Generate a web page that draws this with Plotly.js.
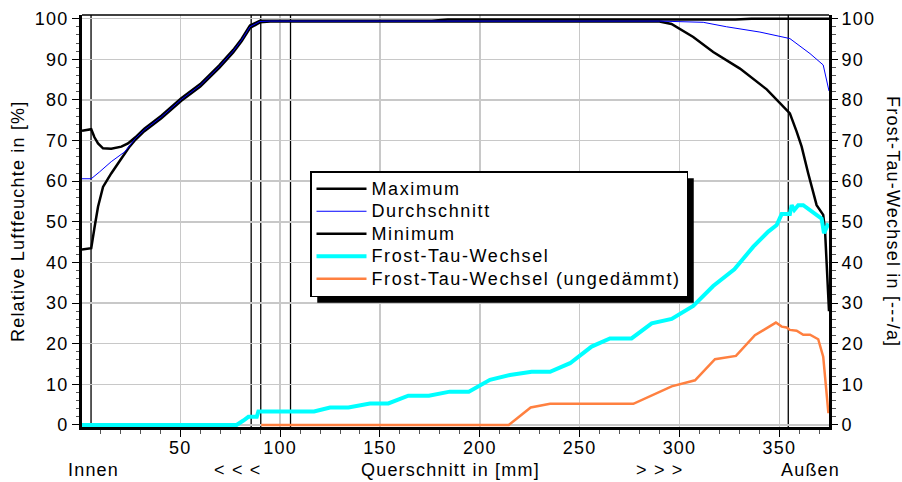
<!DOCTYPE html>
<html>
<head>
<meta charset="utf-8">
<script src="https://cdn.plot.ly/plotly-3.0.1.min.js"></script>
<style>
html, body { margin: 0; padding: 0; background: #fff; }
svg text { letter-spacing: 1.2px; }
svg text.legendtext { font-size: 18px !important; letter-spacing: 1.6px; }
</style>
</head>
<body>
<div id="chart" style="width:902px;height:482px;"></div>
<script>
// ---- data ----
const xMax = [0.77, 5.4, 7.0, 8.8, 11.3, 15.4, 20.5, 23.8, 27.5, 32, 40.5, 50.5, 60, 69.5, 76.5, 80.7, 84.9, 89.9, 95, 176, 184, 328, 336, 374.9];
const yMax = [72.4, 72.8, 70.8, 69.3, 68.1, 68.0, 68.5, 69.3, 70.8, 72.9, 76.1, 80.4, 83.9, 88.5, 92.3, 95.0, 98.3, 99.5, 99.5, 99.5, 99.8, 99.8, 100, 100];

const xAvg = [0.77, 5.4, 9.6, 15.4, 22.1, 27.5, 32, 40.5, 50.5, 60, 69.5, 76.5, 80.7, 84.9, 89.9, 95, 290, 301.9, 311.9, 323.6, 327, 340.3, 355.3, 358.7, 365.4, 372, 374.9];
const yAvg = [60.6, 60.6, 62.3, 64.8, 67.2, 70.5, 72.6, 75.8, 80.1, 83.6, 88.2, 92.0, 94.7, 98.0, 99.3, 99.4, 99.4, 99.2, 99.1, 98.0, 97.7, 96.7, 95.1, 93.9, 91.4, 88.6, 82.2];

const xMin = [0.77, 5.4, 7.1, 8.8, 11.3, 15.4, 20.5, 24.6, 27.5, 32, 40.5, 50.5, 60, 69.5, 76.5, 80.7, 84.9, 89.9, 95, 290, 296, 306.9, 316.9, 330.3, 343.7, 355.3, 358.7, 361.2, 364.5, 368.7, 372, 372.9, 374.9];
const yMin = [43.2, 43.5, 48.8, 53.7, 58.6, 61.9, 65.6, 68.5, 70.2, 72.3, 75.5, 79.8, 83.3, 87.9, 91.7, 94.4, 97.7, 99.1, 99.3, 99.3, 98.7, 95.5, 91.8, 87.7, 82.6, 76.7, 72.2, 68.5, 61.9, 54.1, 51.7, 48.0, 28];

const xFrost = [0.77, 78.2, 81.6, 84.1, 88.3, 89.1, 117, 125, 134.2, 145, 154.2, 164.2, 174.5, 185, 194.5, 205.1, 215.1, 226, 235.2, 245.2, 256, 265.2, 276, 286.1, 296.1, 306.9, 316.9, 327.5, 337, 344.5, 348.7, 351.2, 355.3, 356.2, 357.5, 359.5, 362, 368.7, 371.2, 372.4, 374.6];
const yFrost = [0, 0, 1.1, 2.0, 2.0, 3.3, 3.3, 4.3, 4.3, 5.3, 5.3, 7.2, 7.2, 8.2, 8.2, 11.1, 12.3, 13.1, 13.1, 15.2, 19.3, 21.3, 21.3, 25.0, 26.1, 29.3, 34.2, 38.3, 43.9, 47.6, 49.2, 51.9, 51.9, 54.1, 52.9, 54.1, 54.1, 51.9, 50.8, 47.2, 49.6];

const xFrostU = [90.5, 214.5, 225.5, 235.2, 276.9, 296.1, 307.8, 317.8, 328.3, 337.8, 348.3, 351.2, 353.7, 355.3, 358.7, 362, 365.4, 369.5, 372, 373.6, 374.6];
const yFrostU = [0, 0, 4.3, 5.2, 5.2, 9.5, 11.0, 16.2, 17.0, 22.1, 25.2, 24.2, 24.0, 23.4, 23.2, 22.2, 22.2, 21.1, 16.8, 8.6, 2.9];

const layerBounds = [5.3, 85.5, 90.3, 105.2, 354.5];

const xTicks = [50, 100, 150, 200, 250, 300, 350];
const xTickText = ['50', '100', '150', '200', '250', '300', '350'];
const yTicks = [0, 10, 20, 30, 40, 50, 60, 70, 80, 90, 100];
const yTickText = ['0', '10', '20', '30', '40', '50', '60', '70', '80', '90', '100'];

const seriesNames = ['Maximum', 'Durchschnitt', 'Minimum', 'Frost-Tau-Wechsel', 'Frost-Tau-Wechsel (ungedämmt)'];
const bottomLabels = ['Innen', '< < <', 'Querschnitt in [mm]', '> > >', 'Außen'];
const yTitleLeft = 'Relative Luftfeuchte in [%]';
const yTitleRight = 'Frost-Tau-Wechsel in [---/a]';

// ---- traces ----
const traces = [
  {x: xMax, y: yMax, name: seriesNames[0], type: 'scatter', mode: 'lines', legendrank: 1,
   line: {color: '#000000', width: 2.5}},
  {x: xMin, y: yMin, name: seriesNames[2], type: 'scatter', mode: 'lines', legendrank: 3,
   line: {color: '#000000', width: 2.5}},
  {x: xAvg, y: yAvg, name: seriesNames[1], type: 'scatter', mode: 'lines', legendrank: 2,
   line: {color: '#0000ff', width: 1}},
  {x: xFrost, y: yFrost, name: seriesNames[3], type: 'scatter', mode: 'lines', yaxis: 'y2', legendrank: 4,
   line: {color: '#00ffff', width: 4}},
  {x: xFrostU, y: yFrostU, name: seriesNames[4], type: 'scatter', mode: 'lines', yaxis: 'y2', legendrank: 5,
   line: {color: '#ff8040', width: 2.5}}
];

// ---- layout helpers ----
const L = 82, R = 73, T = 15, B = 55, W = 902, H = 482;
const PW = W - L - R, PH = H - T - B;
const px2x = p => (p - L) / PW;
const py2y = p => (H - B - p) / PH;

const shapes = layerBounds.map(v => ({
  type: 'line', xref: 'x', yref: 'paper', x0: v, x1: v, y0: 0, y1: 1,
  line: {color: '#000', width: 1.3}, layer: 'below'
}));
// top frame line
shapes.push({type: 'line', xref: 'paper', yref: 'paper', x0: 0, x1: 1, y0: 1, y1: 1,
  line: {color: '#000', width: 1.5}});

const labelX = [93.7, 238, 450, 660, 810];
const annotations = bottomLabels.map((t, i) => ({
  text: t, xref: 'paper', yref: 'paper', x: px2x(labelX[i]), y: py2y(470),
  xanchor: 'center', yanchor: 'middle', showarrow: false, font: {size: 18, color: '#000'}
}));
annotations.push({text: yTitleLeft, xref: 'paper', yref: 'paper', x: px2x(18), y: 0.5,
  xanchor: 'center', yanchor: 'middle', textangle: -90, showarrow: false, font: {size: 18, color: '#000'}});
annotations.push({text: yTitleRight, xref: 'paper', yref: 'paper', x: px2x(893), y: 0.5,
  xanchor: 'center', yanchor: 'middle', textangle: 90, showarrow: false, font: {size: 18, color: '#000'}});

const yAxisCommon = {
  range: [-0.5, 100.9], tickmode: 'array', tickvals: yTicks, ticktext: yTickText,
  ticks: 'outside', ticklen: 7, tickwidth: 1, tickcolor: '#000',
  zeroline: false, fixedrange: true,
  tickfont: {size: 18, color: '#000'},
  minor: {tickmode: 'linear', tick0: 0, dtick: 2, ticks: 'outside', ticklen: 3.5, tickwidth: 1, tickcolor: '#555', showgrid: false}
};

const layout = {
  width: W, height: H,
  margin: {l: L, r: R, t: T, b: B, pad: 0},
  paper_bgcolor: '#ffffff', plot_bgcolor: '#ffffff',
  font: {family: 'Liberation Sans, Arial, sans-serif', size: 18, color: '#000'},
  showlegend: true,
  legend: {x: px2x(310), y: py2y(171), xanchor: 'left', yanchor: 'top',
    bgcolor: '#ffffff', bordercolor: '#000', borderwidth: 1.5,
    font: {size: 15, color: '#000'}, itemwidth: 50, tracegroupgap: 0, traceorder: 'normal'},
  xaxis: {
    range: [0.77, 374.9], tickmode: 'array', tickvals: xTicks, ticktext: xTickText,
    ticks: 'outside', ticklen: 7, tickwidth: 1, tickcolor: '#000', ticklabelstandoff: -5,
    showgrid: true, gridcolor: '#c8c8c8', gridwidth: 1.5,
    showline: true, linecolor: '#000', linewidth: 3, zeroline: false, fixedrange: true,
    tickfont: {size: 18, color: '#000'},
    minor: {tickmode: 'linear', tick0: 0, dtick: 10, ticks: 'outside', ticklen: 4, tickwidth: 1, tickcolor: '#555', showgrid: false}
  },
  yaxis: Object.assign({}, yAxisCommon, {
    showgrid: true, gridcolor: '#c8c8c8', gridwidth: 1.5,
    showline: true, linecolor: '#000', linewidth: 3
  }),
  yaxis2: Object.assign({}, yAxisCommon, {
    overlaying: 'y', side: 'right', showgrid: false, ticklen: 6,
    showline: true, linecolor: '#000', linewidth: 3
  }),
  shapes: shapes,
  annotations: annotations
};

Plotly.newPlot('chart', traces, layout, {displayModeBar: false, staticPlot: true}).then(gd => {
  // drop shadow behind the legend box, sized from the drawn legend
  const bg = gd.querySelector('.legend rect.bg');
  const host = gd.getBoundingClientRect();
  if (bg) {
    const r = bg.getBoundingClientRect();
    const left = r.left - host.left, top = r.top - host.top;
    const right = r.right - host.left, bottom = r.bottom - host.top;
    const off = 6.5;
    const sh = gd.layout.shapes.slice();
    sh.push({type: 'rect', xref: 'paper', yref: 'paper',
      x0: px2x(left + off), x1: px2x(right + off), y0: py2y(bottom + off), y1: py2y(top + off),
      fillcolor: '#000', line: {width: 0}, layer: 'above'});
    Plotly.relayout(gd, {shapes: sh});
  }
});
</script>
</body>
</html>
